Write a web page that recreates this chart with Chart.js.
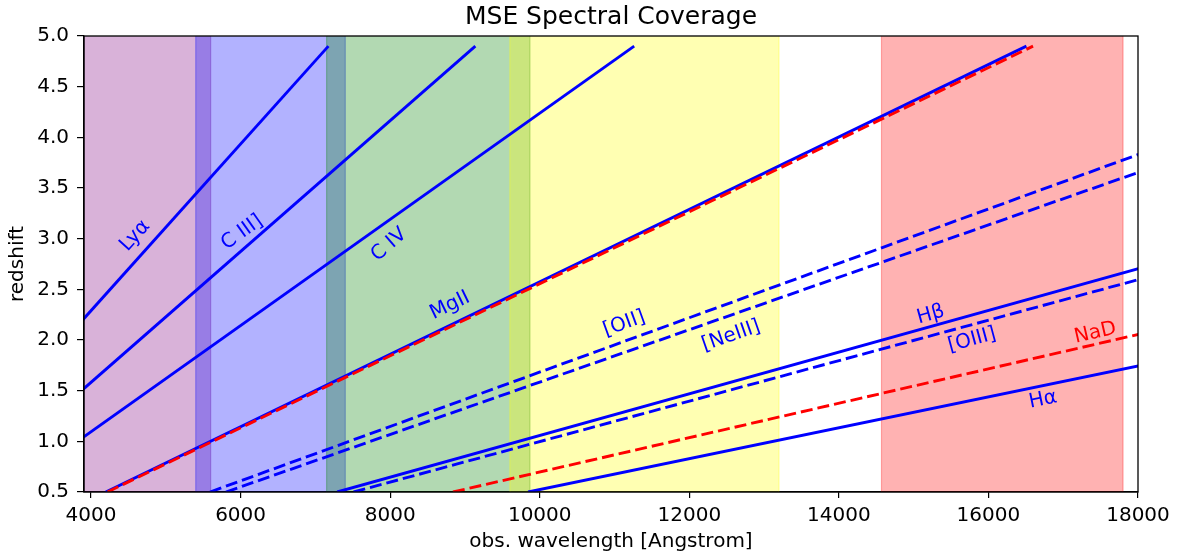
<!DOCTYPE html>
<html>
<head>
<meta charset="utf-8">
<title>MSE Spectral Coverage</title>
<script src="https://cdn.jsdelivr.net/npm/chart.js@4.4.0/dist/chart.umd.min.js"></script>
<style>
  html, body { margin: 0; background: #fff; }
  canvas { display: block; }
</style>
</head>
<body>
<canvas id="coverage" width="1177" height="558"></canvas>
<script>
// emission / absorption lines, rest wavelength in Angstrom
const lineNames = ['Lyα', 'C IV', 'C III]', 'MgII', 'MgII abs', '[OII]', '[NeIII]', 'Hβ', '[OIII]', 'NaD', 'Hα'];
const restWavelengths = [1216, 1549, 1909, 2798, 2813, 3727, 3869, 4861, 5007, 5893, 6563];
const redshiftRange = [0.5, 4.9];

// spectrograph arm coverage (Angstrom)
const bandStart = [3600, 5400, 7150, 9600, 14570];
const bandEnd = [5600, 7400, 9870, 13200, 17800];

const xTicks = [4000, 6000, 8000, 10000, 12000, 14000, 16000, 18000];
const yTicks = [0.5, 1.0, 1.5, 2.0, 2.5, 3.0, 3.5, 4.0, 4.5, 5.0];

const chartTitle = 'MSE Spectral Coverage';

// styling
const lineColors = ['#0000ff', '#0000ff', '#0000ff', '#0000ff', '#ff0000', '#0000ff', '#0000ff', '#0000ff', '#0000ff', '#ff0000', '#0000ff'];
const lineDashed = [false, false, false, false, true, true, true, false, true, true, false];
const bandColors = ['128,0,128', '0,0,255', '0,128,0', '255,255,0', '255,0,0'];

// where each line's name sits (obs. wavelength, redshift); null = no label
const labelAnchors = [
  [4590, 3.03], [7985, 2.94], [6020, 3.06], [8800, 2.34], null,
  [11130, 2.16], [12560, 2.04], [15230, 2.25], [15780, 2.00], [17430, 2.07], [16730, 1.41]
];
const labelText = ['Lyα', 'C IV', 'C III]', 'MgII', '', '[OII]', '[NeIII]', 'Hβ', '[OIII]', 'NaD', 'Hα'];

const FONT = "'DejaVu Sans', sans-serif";

const datasets = restWavelengths.map((lam, i) => ({
  label: lineNames[i],
  data: redshiftRange.map(z => ({ x: lam * (1 + z), y: z })),
  borderColor: lineColors[i],
  borderWidth: 2.9,
  borderDash: lineDashed[i] ? [12, 5] : [],
  pointRadius: 0,
  fill: false,
  order: lineColors[i] === '#ff0000' ? 0 : 1
}));

const bandPlugin = {
  id: 'bands',
  beforeDatasetsDraw(chart) {
    const { ctx, chartArea: a, scales: { x } } = chart;
    ctx.save();
    ctx.beginPath();
    ctx.rect(a.left, a.top, a.width, a.height);
    ctx.clip();
    bandStart.forEach((s, i) => {
      const x0 = x.getPixelForValue(s);
      const x1 = x.getPixelForValue(bandEnd[i]);
      ctx.fillStyle = 'rgba(' + bandColors[i] + ',0.3)';
      ctx.fillRect(x0, a.top, x1 - x0, a.height);
      ctx.strokeStyle = 'rgba(' + bandColors[i] + ',0.3)';
      ctx.lineWidth = 1.2;
      ctx.beginPath();
      ctx.moveTo(x0, a.top); ctx.lineTo(x0, a.bottom);
      ctx.moveTo(x1, a.top); ctx.lineTo(x1, a.bottom);
      ctx.stroke();
    });
    ctx.restore();
  }
};

const labelPlugin = {
  id: 'lineLabels',
  afterDatasetsDraw(chart) {
    const { ctx, scales: { x, y } } = chart;
    ctx.save();
    ctx.font = '20px ' + FONT;
    ctx.textAlign = 'center';
    ctx.textBaseline = 'middle';
    labelAnchors.forEach((pos, i) => {
      if (!pos) return;
      const lam = restWavelengths[i];
      // slope of the line in pixel space gives the text angle
      const x0 = x.getPixelForValue(lam * (1 + redshiftRange[0]));
      const y0 = y.getPixelForValue(redshiftRange[0]);
      const x1 = x.getPixelForValue(lam * (1 + redshiftRange[1]));
      const y1 = y.getPixelForValue(redshiftRange[1]);
      ctx.save();
      ctx.translate(x.getPixelForValue(pos[0]), y.getPixelForValue(pos[1]));
      ctx.rotate(Math.atan2(y1 - y0, x1 - x0));
      ctx.fillStyle = lineColors[i];
      ctx.fillText(labelText[i], 0, 0);
      ctx.restore();
    });
    ctx.restore();
  }
};

// axes box + title centred over the plot area
const framePlugin = {
  id: 'frame',
  afterDraw(chart) {
    const { ctx, chartArea: a } = chart;
    ctx.save();
    ctx.strokeStyle = '#000';
    ctx.lineWidth = 1.3;
    ctx.strokeRect(a.left, a.top, a.width, a.height);
    ctx.fillStyle = '#000';
    ctx.font = '25px ' + FONT;
    ctx.textAlign = 'center';
    ctx.textBaseline = 'alphabetic';
    ctx.fillText(chartTitle, (a.left + a.right) / 2, 24);
    ctx.restore();
  }
};

new Chart(document.getElementById('coverage'), {
  type: 'line',
  data: { datasets },
  plugins: [bandPlugin, labelPlugin, framePlugin],
  options: {
    responsive: false,
    animation: false,
    layout: { padding: { left: 0, right: 39, top: 36, bottom: 0 } },
    plugins: {
      legend: { display: false },
      tooltip: { enabled: false },
      title: { display: false }
    },
    scales: {
      x: {
        type: 'linear',
        min: 3906,
        max: 18000,
        afterBuildTicks: s => { s.ticks = xTicks.map(v => ({ value: v })); },
        afterFit: s => { s.height = 66; },
        grid: { drawOnChartArea: false, drawTicks: true, tickLength: 6, color: '#000', lineWidth: 1.2 },
        border: { color: '#000', width: 1.3 },
        ticks: { color: '#000', font: { family: FONT, size: 20 }, padding: 6, maxRotation: 0, callback: v => String(v) },
        title: {
          display: true,
          text: 'obs. wavelength [Angstrom]',
          color: '#000',
          font: { family: FONT, size: 20 },
          padding: { top: 4, bottom: 4 }
        }
      },
      y: {
        type: 'linear',
        min: 0.5,
        max: 5.0,
        afterBuildTicks: s => { s.ticks = yTicks.map(v => ({ value: v })); },
        afterFit: s => { s.width = 84; },
        grid: { drawOnChartArea: false, drawTicks: true, tickLength: 7, color: '#000', lineWidth: 1.2 },
        border: { color: '#000', width: 1.3 },
        ticks: { color: '#000', font: { family: FONT, size: 20 }, padding: 8, callback: v => v.toFixed(1) },
        title: {
          display: true,
          text: 'redshift',
          color: '#000',
          font: { family: FONT, size: 20 },
          padding: { top: 6, bottom: 6 }
        }
      }
    }
  }
});
</script>
</body>
</html>
